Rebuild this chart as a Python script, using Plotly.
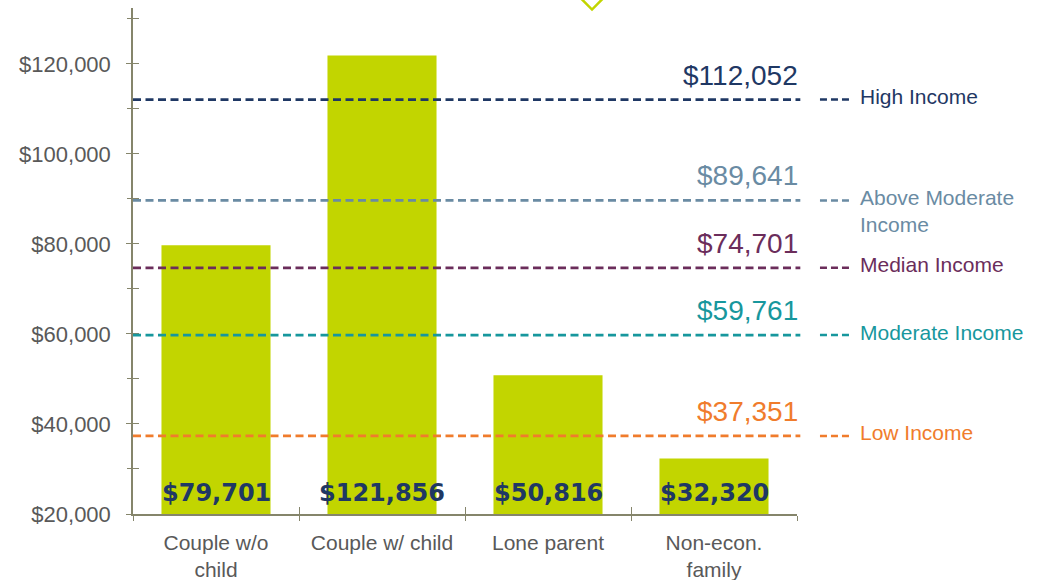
import plotly.graph_objects as go

# ---- data ----
categories = ["Couple w/o child", "Couple w/ child", "Lone parent", "Non-econ. family"]
category_labels = ["Couple w/o<br>child", "Couple w/ child", "Lone parent", "Non-econ.<br>family"]
median_income = [79701, 121856, 50816, 32320]
bar_labels = ["$79,701", "$121,856", "$50,816", "$32,320"]

threshold_names = ["High Income", "Above Moderate<br>Income", "Median Income", "Moderate Income", "Low Income"]
threshold_values = [112052, 89641, 74701, 59761, 37351]
threshold_labels = ["$112,052", "$89,641", "$74,701", "$59,761", "$37,351"]
threshold_colors = ["#1f3864", "#6a8ba3", "#6b2d5b", "#17979d", "#f07c2c"]

BAR_COLOR = "#c2d500"
AXIS_COLOR = "#85856b"
TEXT_GRAY = "#595959"
FONT = "Liberation Sans"

y_range = [20000, 132400]

fig = go.Figure()

fig.add_trace(go.Bar(
    x=categories, y=median_income, marker=dict(color=BAR_COLOR, line=dict(width=0)),
    hoverinfo="skip", showlegend=False,
))
# invisible trace on overlay axes (used for crossing ticks)
fig.add_trace(go.Scatter(
    x=categories, y=median_income, mode="markers", marker=dict(opacity=0),
    xaxis="x2", yaxis="y2", hoverinfo="skip", showlegend=False,
))

# bar value labels
for cat, lab in zip(categories, bar_labels):
    fig.add_annotation(
        x=cat, y=y_range[0], xref="x", yref="y", text=lab, showarrow=False,
        yanchor="bottom", yshift=5,
        font=dict(family="DejaVu Sans", size=24, color="#1f3864", weight="bold"),
    )

# threshold lines, value labels, legend entries
for name, val, lab, col in zip(threshold_names, threshold_values, threshold_labels, threshold_colors):
    fig.add_shape(type="line", xref="paper", yref="y", x0=0, x1=1.005, y0=val, y1=val,
                  line=dict(color=col, width=2.75, dash="8px,4.5px"), layer="above")
    fig.add_shape(type="line", xref="paper", yref="y", x0=1.0346, x1=1.0783, y0=val, y1=val,
                  line=dict(color=col, width=2.5, dash="7px,4px"), layer="above")
    fig.add_annotation(x=1.0045, y=val, xref="paper", yref="y", text=lab, showarrow=False,
                       xanchor="right", yanchor="bottom", yshift=7,
                       font=dict(family=FONT, size=28, color=col))
    if "<br>" in name:
        fig.add_annotation(x=1.092, y=val, xref="paper", yref="y", text=name, showarrow=False,
                           xanchor="left", yanchor="top", yshift=16, align="left",
                           font=dict(family=FONT, size=21, color=col))
    else:
        fig.add_annotation(x=1.092, y=val, xref="paper", yref="y", text=name, showarrow=False,
                           xanchor="left", yanchor="middle", yshift=3, align="left",
                           font=dict(family=FONT, size=21, color=col))

# decorative open diamond at top (partially cut off)
fig.add_shape(type="path", xref="paper", yref="paper",
              path="M 0.6732 1.0208 L 0.6913 0.997 L 0.7093 1.0208",
              line=dict(color=BAR_COLOR, width=2.5))

fig.update_layout(
    width=1049, height=580,
    margin=dict(l=133, r=252, t=8, b=66),
    paper_bgcolor="white", plot_bgcolor="white",
    bargap=0.343,
    font=dict(family=FONT, color=TEXT_GRAY),
    xaxis=dict(
        type="category", categoryorder="array", categoryarray=categories,
        tickvals=categories, ticktext=category_labels, automargin=False,
        tickson="boundaries", ticks="outside", ticklen=5, tickwidth=1.3, tickcolor=AXIS_COLOR,
        showline=True, linecolor=AXIS_COLOR, linewidth=1.5,
        showgrid=False, zeroline=False, range=[-0.5, 3.5],
        tickfont=dict(family=FONT, size=21, color=TEXT_GRAY),
        ticklabelstandoff=9,
    ),
    xaxis2=dict(
        type="category", categoryorder="array", categoryarray=categories,
        overlaying="x", tickson="boundaries", ticks="inside", ticklen=7, tickwidth=1.3,
        tickcolor=AXIS_COLOR, showticklabels=False, showline=False, showgrid=False,
        zeroline=False, range=[-0.5, 3.5], matches="x", automargin=False,
    ),
    yaxis=dict(
        range=y_range, tick0=20000, dtick=20000, tickformat="$,.0f", automargin=False,
        ticks="outside", ticklen=5, tickwidth=1.3, tickcolor=AXIS_COLOR,
        minor=dict(dtick=10000, tick0=20000, ticks="outside", ticklen=4, tickcolor=AXIS_COLOR, tickwidth=1.3),
        showline=True, linecolor=AXIS_COLOR, linewidth=1.5,
        showgrid=False, zeroline=False,
        tickfont=dict(family=FONT, size=22, color=TEXT_GRAY),
        ticklabelstandoff=11,
    ),
    yaxis2=dict(
        range=y_range, tick0=20000, dtick=20000, overlaying="y", automargin=False,
        ticks="inside", ticklen=6, tickwidth=1.3, tickcolor=AXIS_COLOR,
        minor=dict(dtick=10000, tick0=20000, ticks="inside", ticklen=6, tickcolor=AXIS_COLOR, tickwidth=1.3),
        showticklabels=False, showline=False, showgrid=False, zeroline=False,
    ),
)

fig.write_html("out.html")
